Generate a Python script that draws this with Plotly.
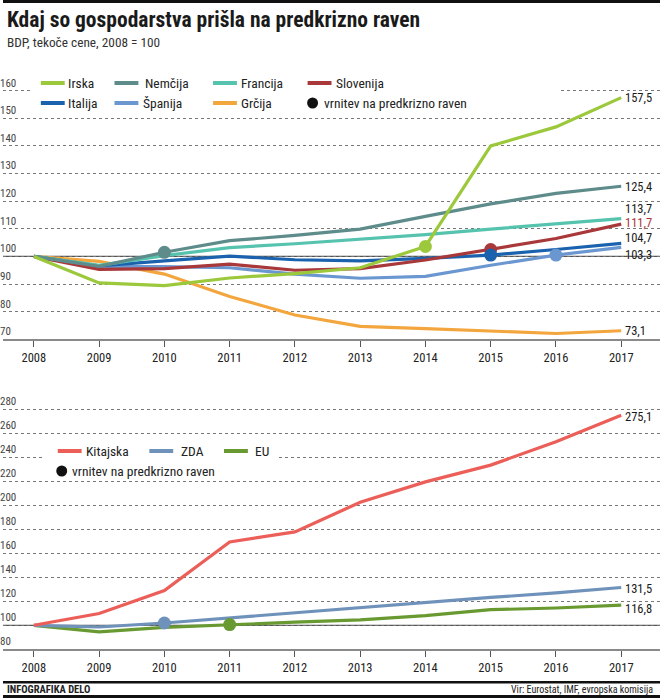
import plotly.graph_objects as go

# ---------------- data ----------------
years = list(range(2008, 2018))

# top chart (BDP, 2008 = 100)
irska     = [100, 90.4, 89.4, 92.2, 93.8, 95.9, 103.6, 140.0, 146.9, 157.5]
nemcija   = [100, 96.4, 101.5, 105.7, 107.6, 109.9, 114.5, 119.0, 122.8, 125.4]
francija  = [100, 96.8, 100.3, 103.2, 104.6, 106.2, 107.9, 109.9, 111.9, 113.7]
slovenija = [100, 95.3, 95.6, 97.2, 95.0, 95.6, 98.7, 102.5, 106.5, 111.7]
italija   = [100, 96.6, 98.4, 100.1, 98.8, 98.4, 99.3, 100.5, 102.5, 104.7]
spanija   = [100, 96.3, 96.3, 95.9, 93.6, 92.1, 92.8, 96.8, 100.5, 103.3]
grcija    = [100, 98.2, 93.6, 85.5, 78.8, 74.7, 73.9, 72.9, 72.1, 73.1]

# bottom chart
kitajska = [100, 109.8, 129.0, 169.5, 177.8, 202.5, 219.5, 233.5, 253.0, 275.1]
zda      = [100, 98.6, 101.9, 106.2, 110.2, 114.3, 119.2, 123.2, 127.0, 131.5]
eu       = [100, 94.5, 98.2, 100.6, 102.6, 104.5, 108.0, 113.0, 114.4, 116.8]

# year of return to pre-crisis level
vrnitev_top = {"Nemčija": 2010, "Irska": 2014, "Slovenija": 2015, "Italija": 2015, "Španija": 2016}
vrnitev_bottom = {"ZDA": 2010, "EU": 2011}

top_ticks = [70, 80, 90, 100, 110, 120, 130, 140, 150, 160]
bottom_ticks = [80, 100, 120, 140, 160, 180, 200, 220, 240, 260, 280]

title = "Kdaj so gospodarstva prišla na predkrizno raven"
subtitle = "BDP, tekoče cene, 2008 = 100"
legend_point_label = "vrnitev na predkrizno raven"
footer_left = "INFOGRAFIKA DELO"
footer_right = "Vir: Eurostat, IMF, evropska komisija"

# ---------------- styling ----------------
FONT = "Liberation Sans Narrow, Roboto Condensed, Arial Narrow, Roboto, sans-serif"
W, H = 660, 698

top_series = [
    ("Grčija", grcija, "#f4a63e"),
    ("Španija", spanija, "#6b97d1"),
    ("Italija", italija, "#1a62ad"),
    ("Slovenija", slovenija, "#a8383a"),
    ("Francija", francija, "#55c3ae"),
    ("Nemčija", nemcija, "#5e8c8b"),
    ("Irska", irska, "#9cc83c"),
]
bottom_series = [
    ("EU", eu, "#689a31"),
    ("ZDA", zda, "#6f92bb"),
    ("Kitajska", kitajska, "#ec5e58"),
]
colors = {n: c for n, _, c in top_series + bottom_series}
data = {n: d for n, d, _ in top_series + bottom_series}


def pxx(x):
    return x / W


def pxy(y):
    return 1 - y / H


fig = go.Figure()

for name, vals, col in top_series:
    fig.add_trace(go.Scatter(x=years, y=vals, mode="lines", name=name,
                             line=dict(color=col, width=3.2), xaxis="x", yaxis="y",
                             showlegend=False, hoverinfo="skip"))
for name, yr in vrnitev_top.items():
    fig.add_trace(go.Scatter(x=[yr], y=[data[name][years.index(yr)]], mode="markers",
                             marker=dict(color=colors[name], size=13), xaxis="x", yaxis="y",
                             showlegend=False, hoverinfo="skip"))

for name, vals, col in bottom_series:
    fig.add_trace(go.Scatter(x=years, y=vals, mode="lines", name=name,
                             line=dict(color=col, width=3.2), xaxis="x2", yaxis="y2",
                             showlegend=False, hoverinfo="skip"))
for name, yr in vrnitev_bottom.items():
    fig.add_trace(go.Scatter(x=[yr], y=[data[name][years.index(yr)]], mode="markers",
                             marker=dict(color=colors[name], size=13), xaxis="x2", yaxis="y2",
                             showlegend=False, hoverinfo="skip"))

xr = [2008 - 31 / 65.56, 2008 + (W - 31) / 65.56]
xcommon = dict(range=xr, tickvals=years, ticktext=[str(y) for y in years],
               ticks="outside", ticklen=6, tickwidth=1, tickcolor="#555",
               showline=True, linecolor="#8a8a8a", linewidth=1.5, showgrid=False,
               zeroline=False, tickfont=dict(family=FONT, size=12.5, color="#222"),
               fixedrange=True)
ycommon = dict(ticklabelposition="inside", ticklabelshift=-8, ticklabelstandoff=-6, ticks="",
               showgrid=True, gridcolor="#777", griddash="dot", gridwidth=1,
               showline=False, zeroline=False,
               tickfont=dict(family=FONT, size=11, color="#444"), fixedrange=True)

fig.update_layout(
    width=W, height=H,
    margin=dict(l=0, r=0, t=0, b=0),
    paper_bgcolor="white", plot_bgcolor="white",
    font=dict(family=FONT, color="#222"),
    xaxis=dict(domain=[0, 1], anchor="y", **xcommon),
    yaxis=dict(domain=[pxy(339.3), pxy(68.6)], anchor="x", range=[70, 168],
               tickvals=top_ticks, **ycommon),
    xaxis2=dict(domain=[0, 1], anchor="y2", **xcommon),
    yaxis2=dict(domain=[pxy(649.3), pxy(394.9)], anchor="x2", range=[80, 292],
                tickvals=bottom_ticks, **ycommon),
    showlegend=False,
)

shapes = []
ann = []

# 100 reference lines
for yref, xref in (("y", "x domain"), ("y2", "x2 domain")):
    shapes.append(dict(type="line", xref=xref, yref=yref, x0=0, x1=1, y0=100, y1=100,
                       line=dict(color="#555", width=1.3), layer="below"))

# frame bars
shapes.append(dict(type="rect", xref="paper", yref="paper", x0=0, x1=1, y0=pxy(3), y1=1,
                   fillcolor="#111", line=dict(width=0)))
shapes.append(dict(type="rect", xref="paper", yref="paper", x0=0, x1=1, y0=pxy(683.5), y1=pxy(681),
                   fillcolor="#111", line=dict(width=0)))
shapes.append(dict(type="rect", xref="paper", yref="paper", x0=0, x1=1, y0=0, y1=pxy(695),
                   fillcolor="#111", line=dict(width=0)))

# title
ann.append(dict(text=f"<b>{title}</b>", x=pxx(2), y=pxy(19), xref="paper", yref="paper",
                xanchor="left", yanchor="middle", showarrow=False,
                font=dict(family=FONT, size=21.5, color="#1a1a1a")))
ann.append(dict(text=subtitle, x=pxx(2), y=pxy(43), xref="paper", yref="paper",
                xanchor="left", yanchor="middle", showarrow=False,
                font=dict(family=FONT, size=13.3, color="#333")))

# footer
ann.append(dict(text=f"<b>{footer_left}</b>", x=pxx(2), y=pxy(689), xref="paper", yref="paper",
                xanchor="left", yanchor="middle", showarrow=False,
                font=dict(family=FONT, size=10.5, color="#222")))
ann.append(dict(text=footer_right, x=pxx(655), y=pxy(689), xref="paper", yref="paper",
                xanchor="right", yanchor="middle", showarrow=False,
                font=dict(family=FONT, size=10, color="#222")))


def legend(bg, items, dot):
    x0, x1, y0, y1 = bg
    shapes.append(dict(type="rect", xref="paper", yref="paper", x0=pxx(x0), x1=pxx(x1),
                       y0=pxy(y1), y1=pxy(y0), fillcolor="white", line=dict(width=0),
                       layer="above"))
    for name, sx, ty, tx in items:
        shapes.append(dict(type="line", xref="paper", yref="paper", x0=pxx(sx), x1=pxx(sx + 24),
                           y0=pxy(ty), y1=pxy(ty), line=dict(color=colors[name], width=4),
                           layer="above"))
        ann.append(dict(text=name, x=pxx(tx), y=pxy(ty), xref="paper", yref="paper",
                        xanchor="left", yanchor="middle", showarrow=False,
                        font=dict(family=FONT, size=13.5, color="#222")))
    cx, cy, tx = dot
    shapes.append(dict(type="circle", xref="paper", yref="paper", x0=pxx(cx - 5.5), x1=pxx(cx + 5.5),
                       y0=pxy(cy + 5.5), y1=pxy(cy - 5.5), fillcolor="#111", line=dict(width=0),
                       layer="above"))
    ann.append(dict(text=legend_point_label, x=pxx(tx), y=pxy(cy), xref="paper", yref="paper",
                    xanchor="left", yanchor="middle", showarrow=False,
                    font=dict(family=FONT, size=13.5, color="#222")))


legend((28, 558, 72, 112),
       [("Irska", 38, 83, 63), ("Nemčija", 112, 83, 141), ("Francija", 211, 83, 237),
        ("Slovenija", 306, 83, 333),
        ("Italija", 38, 103, 63), ("Španija", 112, 103, 139), ("Grčija", 211, 103, 237)],
       (311, 103, 320))
legend((42, 277, 441, 463),
       [("Kitajska", 55, 451, 81), ("ZDA", 147, 451, 177), ("EU", 222, 451, 251)],
       (59, 471, 67))

# end labels
top_label_shift = {"Irska": 0, "Nemčija": 0, "Francija": 10, "Slovenija": 1.5,
                   "Italija": 5.5, "Španija": -7, "Grčija": 0}
for name, vals, col in top_series:
    ann.append(dict(text=f"{vals[-1]:.1f}".replace(".", ","), x=years[-1], y=vals[-1],
                    xref="x", yref="y", xanchor="left", yanchor="middle", xshift=3,
                    yshift=top_label_shift[name], showarrow=False, borderpad=0,
                    font=dict(family=FONT, size=12.5, color="#a8383a" if name == "Slovenija" else "#1a1a1a")))
bottom_label_shift = {"Kitajska": -1, "ZDA": -1, "EU": -3}
for name, vals, col in bottom_series:
    ann.append(dict(text=f"{vals[-1]:.1f}".replace(".", ","), x=years[-1], y=vals[-1],
                    xref="x2", yref="y2", xanchor="left", yanchor="middle", xshift=3,
                    yshift=bottom_label_shift[name], showarrow=False, borderpad=0,
                    font=dict(family=FONT, size=12.5, color="#1a1a1a")))

fig.update_layout(shapes=shapes, annotations=ann)
fig.write_html("out.html", config={"displayModeBar": False},
               post_script="document.body.style.margin='0';")
